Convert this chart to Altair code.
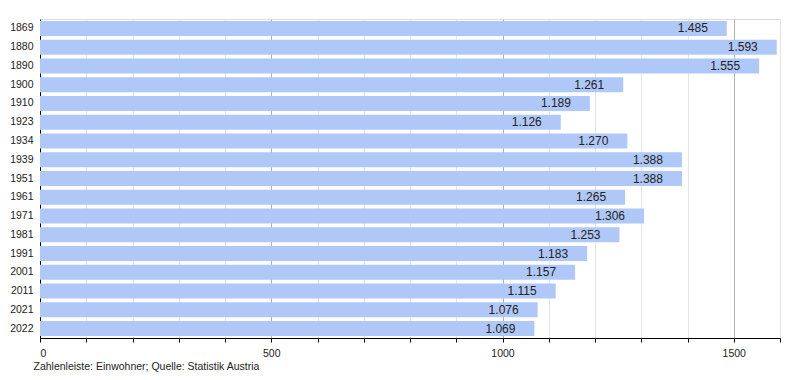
import altair as alt
import pandas as pd

years = ["1869", "1880", "1890", "1900", "1910", "1923", "1934", "1939", "1951",
         "1961", "1971", "1981", "1991", "2001", "2011", "2021", "2022"]
population = [1485, 1593, 1555, 1261, 1189, 1126, 1270, 1388, 1388,
              1265, 1306, 1253, 1183, 1157, 1115, 1076, 1069]
caption = "Zahlenleiste: Einwohner; Quelle: Statistik Austria"

df = pd.DataFrame({"year": years, "pop": population})
df["label"] = [f"{v:,}".replace(",", ".") for v in population]

font = "Liberation Sans"

x = alt.X("pop:Q",
          scale=alt.Scale(domain=[0, 1600], nice=False),
          axis=alt.Axis(
              values=list(range(0, 1601, 100)),
              format="d",
              labelExpr="datum.value % 500 === 0 ? datum.label : ''",
              title=caption,
              titleAnchor="start", titleAlign="left", titleX=-7, titleY=31,
              titleBaseline="alphabetic",
              titleFontWeight="normal", titleFontSize=10.5, titleFont=font,
              titleColor="#222",
              labelFont=font, labelFontSize=10.5, labelColor="#222",
              labelPadding=6,
              domainColor="#000", tickColor="#000", tickSize=4,
              gridColor={"condition": {"test": "datum.value % 500 === 0", "value": "#b0b0b0"},
                         "value": "#e4e4e4"},
              gridWidth=1,
          ))
y = alt.Y("year:N", sort=years,
          scale=alt.Scale(paddingInner=0.2, paddingOuter=0.1),
          axis=alt.Axis(title=None, ticks=False, domainColor="#000",
                        labelFont=font, labelFontSize=10.5, labelColor="#222",
                        labelPadding=7, grid=False))

bars = alt.Chart(df).mark_bar(color="#b0c8f8").encode(x=x, y=y)
text = alt.Chart(df).mark_text(align="right", baseline="middle", dx=-19,
                               font=font, fontSize=12, color="#222").encode(
    x="pop:Q", y=alt.Y("year:N", sort=years), text="label:N")

chart = (bars + text).properties(
    width=740, height=319,
    autosize=alt.AutoSizeParams(type="none"),
    padding={"left": 32, "top": 11, "right": 8, "bottom": 34},
).configure_view(stroke=None).configure(background="white")

chart.save("out.html", embed_options={"renderer": "svg", "actions": False})
